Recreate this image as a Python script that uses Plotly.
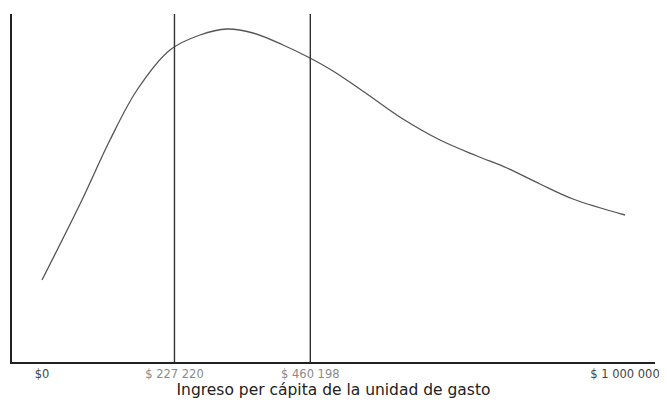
import plotly.graph_objects as go

# Income per capita (pesos) and relative density (arbitrary units)
ingreso = [0, 68600, 116600, 163000, 219500, 271000, 317300, 362000, 413400,
           456300, 499100, 557500, 619200, 682700, 746100, 797600,
           854200, 910800, 1000000]
densidad = [82, 162, 222, 272, 312, 327, 333, 329, 317,
            305, 291, 268, 243, 222, 206, 194,
            178, 163, 147]

lineas_corte = [227220, 460198]
tick_vals = [0, 227220, 460198, 1000000]
tick_text = ["$0", "$ 227 220", "$ 460 198", "$ 1 000 000"]
tick_colors = ["#444444", "#8a8a8a", "#8a8a8a", "#444444"]
y_max = 348

fig = go.Figure()
fig.add_trace(go.Scatter(x=ingreso, y=densidad, mode="lines",
                         line=dict(color="#555555", width=1.3, shape="spline", smoothing=1.0),
                         hoverinfo="skip", showlegend=False))
for xv in lineas_corte:
    fig.add_trace(go.Scatter(x=[xv, xv], y=[0, y_max], mode="lines",
                             line=dict(color="#333333", width=1.4),
                             hoverinfo="skip", showlegend=False))

x0 = (12 - 42) / 583 * 1e6
x1 = (655 - 42) / 583 * 1e6

ticktext_html = [f"<span style='color:{c}'>{t}</span>" for t, c in zip(tick_text, tick_colors)]

fig.update_layout(
    width=667, height=402,
    margin=dict(l=4, r=20, t=6, b=48),
    paper_bgcolor="white", plot_bgcolor="white",
    font=dict(family="DejaVu Sans, sans-serif"),
    xaxis=dict(range=[x0, x1], tickvals=tick_vals, ticktext=ticktext_html,
               showgrid=False, zeroline=False, showline=True,
               linecolor="#222222", linewidth=1.5, ticks="",
               tickfont=dict(size=11.5, color="#555555"),
               title=dict(text="Ingreso per cápita de la unidad de gasto",
                          font=dict(size=15.5, color="#222222"), standoff=3)),
    yaxis=dict(range=[0, y_max], showgrid=False, zeroline=False, showline=True,
               linecolor="#222222", linewidth=1.5, showticklabels=False, ticks=""),
)

fig.write_html("out.html")
